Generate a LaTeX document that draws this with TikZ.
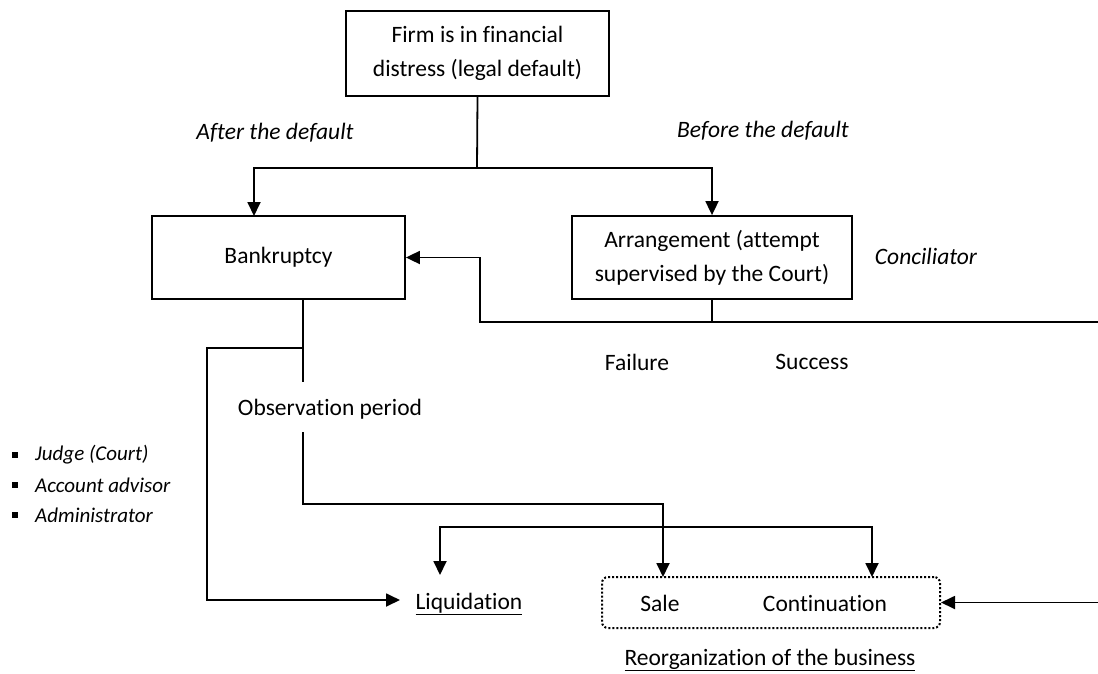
\documentclass[tikz,border=0pt]{standalone}
\usepackage{fontspec}
\setmainfont{Carlito}[Ligatures={NoCommon,NoContextual}]
\usetikzlibrary{arrows.meta,calc}
\begin{document}
\begin{tikzpicture}[x=1pt,y=-1pt,
  every node/.style={font=\fontsize{23.5}{34}\selectfont},
  boxnode/.style={draw,line width=1.8pt,inner sep=0pt,align=center},
  txt/.style={inner sep=0pt,align=center},
  itxt/.style={inner sep=0pt,font=\fontsize{23.5}{34}\selectfont\itshape},
  bul/.style={inner sep=0pt,anchor=west,font=\fontsize{21}{26}\selectfont\itshape},
  conn/.style={line width=1.8pt},
  arr/.style={line width=1.8pt,-{Triangle[length=14pt,width=13pt]}},
  arrboth/.style={line width=1.8pt,{Triangle[length=14pt,width=13pt]}-{Triangle[length=14pt,width=13pt]}},
  dotbox/.style={draw,line width=2pt,dotted,rounded corners=6pt,minimum width=338pt,minimum height=51pt,inner sep=0pt}
]
\useasboundingbox (0,0) rectangle (1098,673);
% boxes
\node[boxnode,minimum width=263pt,minimum height=85pt] (top) at (477.5,53.5) {Firm is in financial\\distress (legal default)};
\node[boxnode,minimum width=253pt,minimum height=83pt] (bank) at (278.5,257.5) {Bankruptcy};
\node[boxnode,minimum width=280pt,minimum height=83pt] (arrg) at (712,257.5) {Arrangement (attempt\\supervised by the Court)};
% labels
\node[itxt] (after) at (275,133) {After the default};
\node[itxt,anchor=west] (before) at (677,131) {Before the default};
\node[itxt] (conc) at (926,256) {Conciliator};
\node[txt] (fail) at (637,362) {Failure};
\node[txt] (succ) at (812,362) {Success};
\node[txt] (obs) at (330,409) {Observation period};
\node[txt] (liq) at (469,604) {\underline{Liquidation}};
\node[dotbox] (reo) at (771,602.5) {};
\node[txt] (sale) at (660,603) {Sale};
\node[txt] (cont) at (825,603) {Continuation};
\node[txt] (reolab) at (770,660) {\underline{Reorganization of the business}};
% bullets
\foreach \yy/\tt/\nm in {455/Judge (Court)/b1,485/Account advisor/b2,515/Administrator/b3}{
  \fill (11.5,\yy-3) rectangle (17.5,\yy+3);
  \node[bul] (\nm) at (35,\yy) {\tt};
}
% coordinates
\coordinate (j1) at (477,168);
\coordinate (bankin) at (254,216);
\coordinate (bankout) at (303,299);
\coordinate (bankstub) at (303,382);
\coordinate (branch) at (303,348);
\coordinate (obsout) at (303,432);
\coordinate (saletop) at (663,577);
\coordinate (conttop) at (872,577);
\coordinate (liqtop) at (440,575);
\coordinate (liqin) at (400,600);
\coordinate (arrout) at (712,322);
\coordinate (failturn) at (480,322);
\coordinate (redge) at (1100,322);
% connectors
\draw[conn] (top.south) -- (j1);
\draw[arr] (j1) -| (bankin);
\draw[arr] (j1) -| (arrg.north);
\draw[conn] (bankout) -- (bankstub);
\draw[arr] (branch) -- (207,348) |- (liqin);
\draw[arr] (obsout) |- (663,504) -- (saletop);
\draw[arrboth] (liqtop) -- (440,527) -| (conttop);
\draw[conn] (arrg.south) -- (arrout);
\draw[arr] (redge) -- (failturn) |- (bank.east);
\draw[arr] (redge) |- (reo.east);
\end{tikzpicture}
\end{document}
